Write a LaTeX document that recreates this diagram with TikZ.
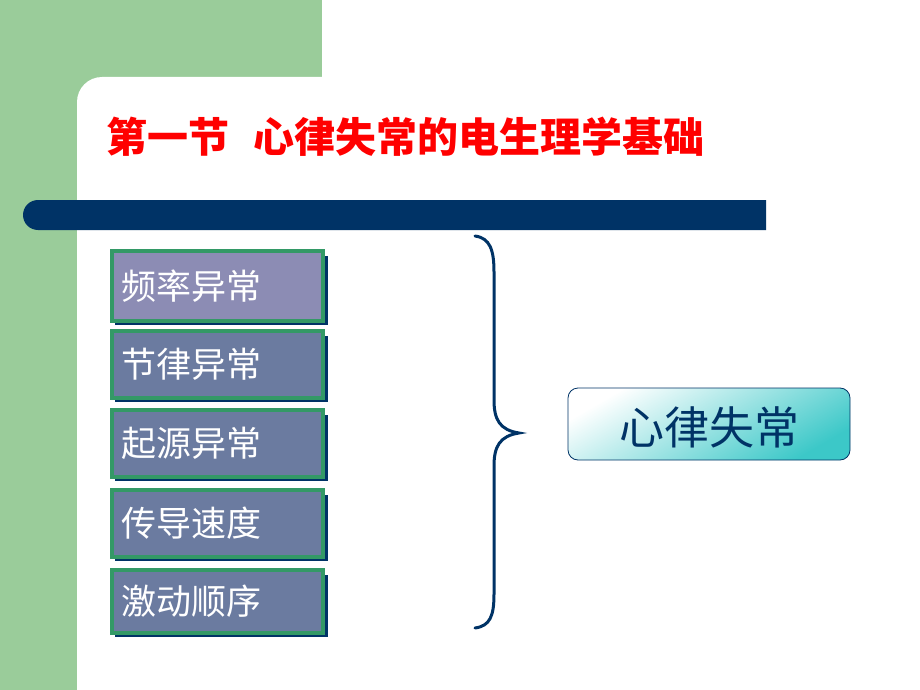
\documentclass[tikz,border=0pt]{standalone}
\usepackage{fontspec}
\newfontfamily\cjk{Noto Sans CJK SC}
\usetikzlibrary{shadings}
\definecolor{bggreen}{HTML}{9ACC9A}
\definecolor{navy}{HTML}{003366}
\definecolor{boxgreen}{HTML}{339966}
\definecolor{boxpurple}{HTML}{8C8CB4}
\definecolor{boxblue}{HTML}{6B7BA0}
\definecolor{tealc}{HTML}{3CC8C8}
\tikzset{
  itemtext/.style={anchor=west, text=white, font=\cjk\fontsize{35}{38}\selectfont, inner sep=0pt},
}
\begin{document}
\begin{tikzpicture}[x=1pt,y=-1pt]
\useasboundingbox (0,0) rectangle (920,690);
\fill[white] (0,0) rectangle (920,690);
% green background
\fill[bggreen] (0,0) rectangle (322,77);
\fill[bggreen] (0,0) rectangle (77,690);
\fill[bggreen] (77,77) rectangle (105,105);
\fill[white] (77,400) [rounded corners=25pt] -- (77,77) -- (200,77) [sharp corners] -- (322,77) -- (322,690) -- (77,690) -- cycle;
% navy bar
\fill[navy] (400,230) [rounded corners=15pt] -- (23,230) -- (23,200) -- (400,200) [sharp corners] -- (766,200) -- (766,230) -- cycle;
% title
\node[anchor=west, text=red, inner sep=0pt, font=\cjk\bfseries\fontsize{41}{44}\selectfont] (title) at (106,137) {第一节\hspace{0.6em}心律失常的电生理学基础};
% item boxes with shadows
\foreach \n/\t/\b/\c/\txt in {a/251/321/boxpurple/频率异常, b/331/398/boxblue/节律异常, c/410/477/boxblue/起源异常, d/490/557/boxblue/传导速度, e/570/633/boxblue/激动顺序}{
  \fill[navy] (115,\t+5) rectangle (328,\b+4);
  \draw[boxgreen, line width=4pt, fill=\c] (112,\t) rectangle (323,\b);
  \node[itemtext] (\n) at (121,{(\t+\b)/2}) {\txt};
}
% brace
\draw[navy, line width=3pt, line cap=round] (475,236) .. controls (490,238) and (494,250) .. (494,272)
  -- (494,400) .. controls (494,420) and (500,430) .. (519,433)
  .. controls (500,436) and (494,446) .. (494,466)
  -- (494,594) .. controls (494,616) and (490,626) .. (475,628);
% result box
\shade[rounded corners=10pt, left color=white, right color=tealc, shading angle=30] (568,388) rectangle (850,460);
\draw[navy, line width=0.8pt, rounded corners=10pt] (568,388) rectangle (850,460);
\node[text=navy, inner sep=0pt, font=\cjk\fontsize{45}{48}\selectfont] (res) at (709,427) {心律失常};
\end{tikzpicture}
\end{document}
